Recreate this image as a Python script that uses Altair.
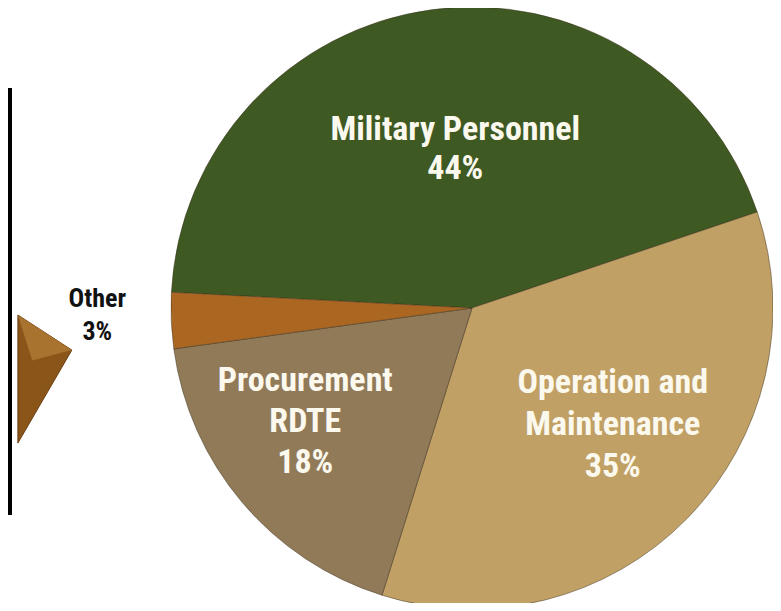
import math
import altair as alt
import pandas as pd

# ---- data ----
categories = ["Military Personnel", "Operation and Maintenance", "Procurement RDTE", "Other"]
values = [44, 35, 18, 3]
labels = ["Military Personnel\n44%", "Operation and\nMaintenance\n35%", "Procurement\nRDTE\n18%", "Other\n3%"]
order_idx = [0, 1, 2, 3]
colors = ["#3e5922", "#c0a064", "#917a58", "#ab6721"]

df = pd.DataFrame({"category": categories, "value": values, "label": labels, "idx": order_idx})

# ---- layout ----
W, H = 765, 595
CX, CY = 464, 300          # pie centre inside the view
R = 301
start = math.radians(-87)
theta_scale = alt.Scale(domain=[0, 100], range=[start, start + 2 * math.pi])
FONT = "Roboto Condensed, Liberation Sans Narrow, Arial Narrow, Roboto, sans-serif"

pie = alt.Chart(df).mark_arc(outerRadius=R, stroke="#3a2e1c", strokeWidth=0.8, strokeOpacity=0.6).encode(
    theta=alt.Theta("value:Q", stack=True, scale=theta_scale),
    order=alt.Order("idx:Q", sort="ascending"),
    color=alt.Color("category:N", scale=alt.Scale(domain=categories, range=colors), legend=None),
    x=alt.value(CX),
    y=alt.value(CY),
)

# label styles: radius, dx, dy, size, line height, colour
styles = {
    0: dict(r=160, dx=5, dy=-19, size=34, lh=39, color="#fbf8ee"),
    1: dict(r=183, dx=10, dy=-53, size=34, lh=42, color="#fbf8ee"),
    2: dict(r=200, dx=-14, dy=-56, size=34, lh=41, color="#fbf8ee"),
    3: dict(r=375, dx=0, dy=-25, size=26, lh=33, color="#111111"),
}

text_layers = []
for k, st in styles.items():
    t = alt.Chart(df).transform_window(
        cum="sum(value)", sort=[alt.SortField("idx", order="ascending")], frame=[None, 0]
    ).transform_calculate(
        mid="datum.cum - datum.value / 2"
    ).transform_filter(
        alt.datum.idx == k
    ).mark_text(
        radius=st["r"], dx=st["dx"], dy=st["dy"], fontSize=st["size"], lineHeight=st["lh"],
        lineBreak="\n", font=FONT, fontWeight="bold", color=st["color"],
        align="center", baseline="middle",
    ).encode(
        theta=alt.Theta("mid:Q", stack=None, scale=theta_scale),
        text="label:N",
        x=alt.value(CX),
        y=alt.value(CY),
    )
    text_layers.append(t)

# decorative pointer triangle beside "Other"
tri_path = "M -0.34 -1 L 0.49 -0.46 L -0.34 0.97 Z"
pointer = alt.Chart(pd.DataFrame({"a": [0]})).mark_point(
    shape=tri_path, filled=True, fill="#8a5519", stroke="#6b3f10", strokeWidth=1, opacity=1
).encode(x=alt.value(32), y=alt.value(372), size=alt.value(16900))

pointer_hi = alt.Chart(pd.DataFrame({"a": [0]})).mark_point(
    shape="M -0.34 -1 L 0.49 -0.46 L -0.12 -0.3 Z", filled=True, fill="#a8722f", opacity=1, strokeWidth=0
).encode(x=alt.value(32), y=alt.value(372), size=alt.value(16900))

# black box edge at the left
box = alt.Chart(pd.DataFrame({"a": [0]})).mark_rect(
    fill="transparent", stroke="black", strokeWidth=4
).encode(x=alt.value(-60), x2=alt.value(2), y=alt.value(82), y2=alt.value(505))

chart = alt.layer(pie, *text_layers, pointer, pointer_hi, box).properties(
    width=W, height=H, autosize=alt.AutoSizeParams(type="none"), padding=0
).configure_view(stroke=None)

chart.save("out.html", embed_options={"renderer": "svg", "actions": False})
